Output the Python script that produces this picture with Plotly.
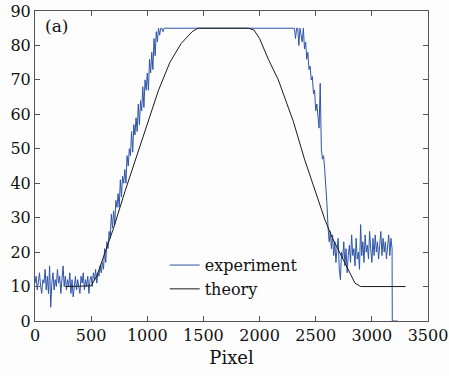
import plotly.graph_objects as go

# Experiment: pixel positions (step 10) and measured values
exp_pixel = list(range(0, 3190, 10)) + [3182, 3230]
exp_values = [
    11, 13, 9, 12, 14, 10, 8, 12, 11, 15,
    9, 13, 8, 16, 4, 11, 14, 9, 12, 10,
    15, 11, 13, 8, 12, 16, 10, 13, 9, 12,
    10, 14, 8, 12, 7, 11, 13, 9, 12, 10,
    8, 13, 11, 14, 9, 12, 10, 13, 8, 12,
    13, 10, 14, 12, 15, 11, 14, 13, 16, 14,
    17, 15, 21, 17, 23, 21, 26, 24, 31, 27,
    32, 28, 35, 33, 37, 33, 41, 36, 42, 40,
    44, 40, 48, 45, 50, 48, 55, 49, 57, 54,
    59, 55, 63, 57, 64, 61, 68, 62, 70, 67,
    72, 67, 76, 72, 78, 73, 82, 77, 84, 81,
    85, 83, 85, 85, 84, 85, 85, 85, 85, 85,
    85, 85, 85, 85, 85, 85, 85, 85, 85, 85,
    85, 85, 85, 85, 85, 85, 85, 85, 85, 85,
    85, 85, 85, 85, 85, 85, 85, 85, 85, 85,
    85, 85, 85, 85, 85, 85, 85, 85, 85, 85,
    85, 85, 85, 85, 85, 85, 85, 85, 85, 85,
    85, 85, 85, 85, 85, 85, 85, 85, 85, 85,
    85, 85, 85, 85, 85, 85, 85, 85, 85, 85,
    85, 85, 85, 85, 85, 85, 85, 85, 85, 85,
    85, 85, 85, 85, 85, 85, 85, 85, 85, 85,
    85, 85, 85, 85, 85, 85, 85, 85, 85, 85,
    85, 85, 85, 85, 85, 85, 85, 85, 85, 85,
    85, 85, 82, 85, 85, 80, 85, 83, 81, 85,
    79, 81, 76, 78, 73, 74, 70, 71, 66, 67,
    61, 63, 58, 56, 69, 50, 47, 48, 44, 40,
    34, 27, 23, 26, 21, 25, 19, 23, 17, 21,
    24, 15, 12, 20, 18, 23, 16, 21, 14, 19,
    22, 17, 25, 19, 21, 16, 24, 18, 20, 15,
    28, 19, 23, 17, 25, 20, 22, 18, 26, 21,
    17, 24, 19, 25, 20, 23, 18, 22, 26, 19,
    24, 20, 23, 18, 22, 25, 19, 24, 21,
    0, 0,
]

# Theory curve
theory_pixel = [270, 400, 500, 550, 600, 700, 800, 900, 1000, 1100, 1200, 1300, 1400, 1450,
                1900, 1950, 2000, 2078, 2167, 2300, 2400, 2478, 2582, 2650, 2731, 2800, 2850, 2900, 3300]
theory_values = [10, 10, 10.2, 13, 17.5, 27, 37.5, 47.5, 57.5, 67, 75, 80.5, 84, 85,
                 85, 84.5, 82, 76, 70, 58, 47, 39.5, 29.4, 24, 18.7, 14, 11, 10, 10]

x_ticks = [0, 500, 1000, 1500, 2000, 2500, 3000, 3500]
y_ticks = [0, 10, 20, 30, 40, 50, 60, 70, 80, 90]

FONT = "DejaVu Serif"

fig = go.Figure()
fig.add_trace(go.Scatter(x=exp_pixel, y=exp_values, mode="lines", name="experiment",
                         line=dict(color="#2f55a8", width=1)))
fig.add_trace(go.Scatter(x=theory_pixel, y=theory_values, mode="lines", name="theory",
                         line=dict(color="#1a1a1a", width=1)))

axis_common = dict(showgrid=False, zeroline=False, showline=True, linecolor="#555555",
                   linewidth=1, mirror="ticks", ticks="inside", ticklen=5, tickcolor="#555555",
                   automargin=False,
                   tickfont=dict(family=FONT, size=16, color="#111111"))

fig.update_layout(
    width=449, height=376,
    margin=dict(l=35, r=21, t=11, b=55),
    paper_bgcolor="#fdfdfd", plot_bgcolor="#fdfdfd",
    font=dict(family=FONT, size=16, color="#111111"),
    showlegend=True,
    legend=dict(x=0.33, y=0.235, xanchor="left", yanchor="top",
                bgcolor="rgba(0,0,0,0)", font=dict(family=FONT, size=16),
                tracegroupgap=0, itemwidth=30),
    xaxis=dict(range=[0, 3500], tickvals=x_ticks, ticktext=[str(v) for v in x_ticks],
               title=dict(text="Pixel", font=dict(family=FONT, size=18), standoff=7),
               **axis_common),
    yaxis=dict(range=[0, 90], tickvals=y_ticks, ticktext=[str(v) for v in y_ticks],
               **axis_common),
    annotations=[dict(text="(a)", xref="paper", yref="paper", x=0.02, y=0.99,
                      xanchor="left", yanchor="top", showarrow=False,
                      font=dict(family=FONT, size=17, color="#111111"))],
)

fig.write_html("out.html", config={"displayModeBar": False},
               post_script="document.body.style.margin='0';document.body.style.background='#fdfdfd';")
